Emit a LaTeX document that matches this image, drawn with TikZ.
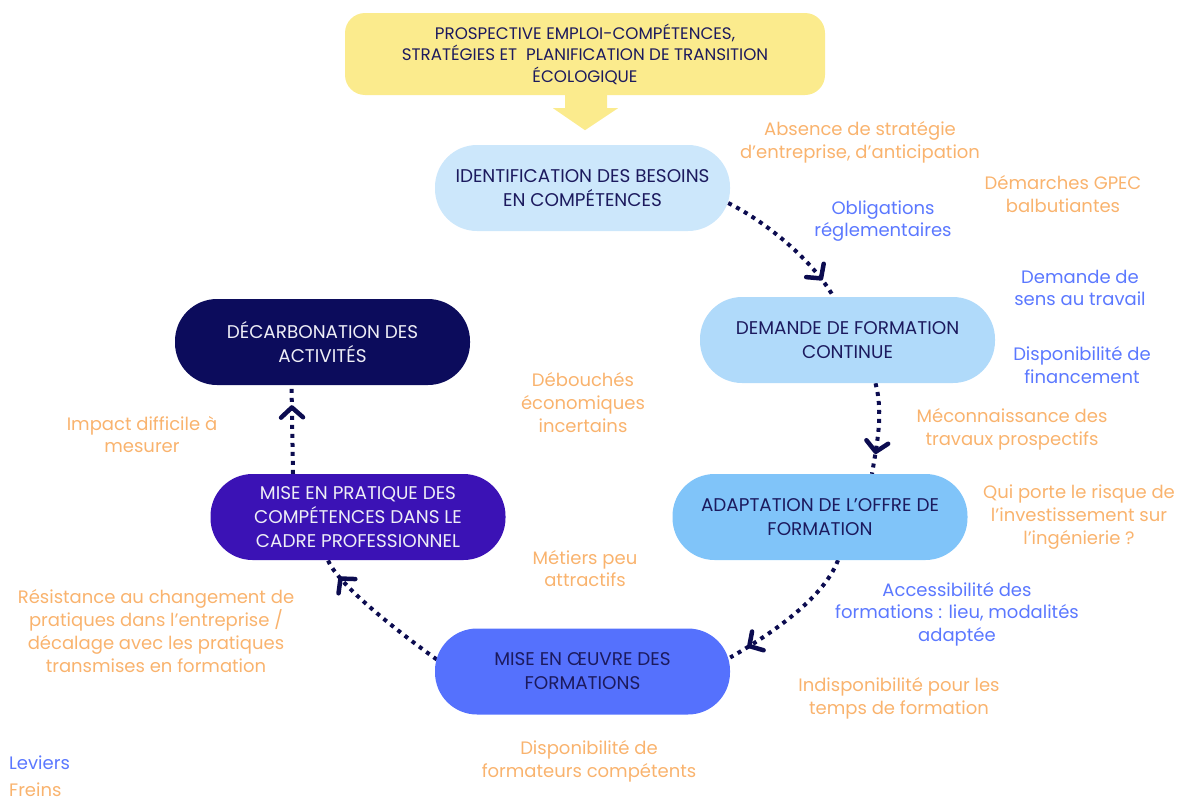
\documentclass[tikz,border=0pt]{standalone}
\usepackage{fontspec}
\setmainfont{Poppins}
\usetikzlibrary{arrows.meta,decorations.markings,backgrounds,calc}

\definecolor{headyellow}{HTML}{FBEB8D}
\definecolor{stageA}{HTML}{CCE7FB}
\definecolor{stageB}{HTML}{B0DAFA}
\definecolor{stageC}{HTML}{80C4F9}
\definecolor{stageD}{HTML}{5571FD}
\definecolor{stageE}{HTML}{3B12B5}
\definecolor{stageF}{HTML}{0C0C5C}
\definecolor{navytext}{HTML}{1C1A5E}
\definecolor{paletext}{HTML}{EEEEF6}
\definecolor{freincol}{HTML}{F9B36E}
\definecolor{leviercol}{HTML}{5B78FF}
\definecolor{linknavy}{HTML}{0C0C50}

\newcommand\stagefont{\fontsize{18.4}{24}\selectfont}
\newcommand\headfont{\fontsize{16.7}{21.5}\selectfont}
\newcommand\notefont{\fontsize{18}{22.7}\selectfont}

\begin{document}
\begin{tikzpicture}[x=1pt,y=-1pt,
  stage/.style={rounded corners=42pt, minimum width=295pt, minimum height=86pt,
    inner sep=0pt, align=center, font=\stagefont, text=navytext},
  frein/.style={text=freincol, align=center, font=\notefont, inner sep=0pt},
  levier/.style={text=leviercol, align=center, font=\notefont, inner sep=0pt},
  flow/.style={draw=linknavy, line width=4pt, line cap=butt,
    dash pattern=on 4pt off 5pt,
    postaction={decorate},
    decoration={markings, mark=at position -20pt with
      {\arrow{Straight Barb[length=10pt,width=22pt,line width=4.5pt,round]}}}}
]
\useasboundingbox (0,0) rectangle (1178,798);

% header box and its block arrow
\node[fill=headyellow, rounded corners=20pt, minimum width=480pt, minimum height=82pt,
  inner sep=0pt, align=center, font=\headfont, text=navytext] (head) at (585,54)
  {PROSPECTIVE EMPLOI-COMPÉTENCES,\\STRATÉGIES ET~ PLANIFICATION DE TRANSITION\\ÉCOLOGIQUE};
\fill[headyellow] ($(head.south)+(-20,0)$) -- ($(head.south)+(22,0)$)
  -- ($(head.south)+(22,13)$) -- ($(head.south)+(33,13)$)
  -- ($(head.south)+(0,35)$) -- ($(head.south)+(-32,13)$)
  -- ($(head.south)+(-20,13)$) -- cycle;

% cycle stages
\node[stage, fill=stageA] (ident) at (582.5,188) {IDENTIFICATION DES BESOINS\\EN COMPÉTENCES};
\node[stage, fill=stageB] (demande) at (847.5,340) {DEMANDE DE FORMATION\\CONTINUE};
\node[stage, fill=stageC] (adapt) at (820,517) {ADAPTATION DE L’OFFRE DE\\FORMATION};
\node[stage, fill=stageD] (oeuvre) at (582.5,671.5) {MISE EN ŒUVRE DES\\FORMATIONS};
\node[stage, fill=stageE, text=paletext] (pratique) at (358,517)
  {MISE EN PRATIQUE DES\\COMPÉTENCES DANS LE\\CADRE PROFESSIONNEL};
\node[stage, fill=stageF, text=paletext] (decarb) at (322.5,342) {DÉCARBONATION DES\\ACTIVITÉS};

% dotted links between stages
\begin{scope}[on background layer]
\draw[flow] ($(ident.east)+(-2,15)$) .. controls +(40,20) and +(-20,-35) .. ($(demande.north)+(-14,0)$);
\draw[flow] ($(demande.south)+(28,0)$) .. controls +(8,30) and +(5,-30) .. ($(adapt.north)+(52,0)$);
\draw[flow] ($(adapt.south)+(18,0)$) .. controls +(-15,40) and +(35,-20) .. ($(oeuvre.east)+(0,-14)$);
\draw[flow] ($(oeuvre.west)+(2,-12)$) .. controls +(-35,-25) and +(10,25) .. ($(pratique.south)+(-30,0)$);
\draw[flow] ($(pratique.north)+(-65,0)$) -- ($(decarb.south)+(-31,0)$);
\end{scope}

% levers and obstacles
\node[frein] (absence) at (860,142.5) {Absence de stratégie\\d’entreprise, d’anticipation};
\node[frein] (gpec) at (1063,194) {Démarches GPEC\\balbutiantes};
\node[levier] (oblig) at (883,221) {Obligations\\réglementaires};
\node[levier] (sens) at (1080,288) {Demande de\\sens au travail};
\node[levier] (finance) at (1082,365) {Disponibilité de\\financement};
\node[frein] (meconn) at (1012,429.5) {Méconnaissance des\\travaux prospectifs};
\node[frein] (risque) at (1079,517) {Qui porte le risque de\\l’investissement sur\\l’ingénierie ?};
\node[levier] (access) at (957,614) {Accessibilité des\\formations : lieu, modalités\\adaptée};
\node[frein] (indispo) at (899,698.5) {Indisponibilité pour les\\temps de formation};
\node[frein] (formateurs) at (589,761.5) {Disponibilité de\\formateurs compétents};
\node[frein] (resist) at (156,631) {Résistance au changement de\\pratiques dans l’entreprise /\\décalage avec les pratiques\\transmises en formation};
\node[frein] (metiers) at (585,568.5) {Métiers peu\\attractifs};
\node[frein] (debouches) at (583,402.5) {Débouchés\\économiques\\incertains};
\node[frein] (impact) at (142,434.5) {Impact difficile à\\mesurer};

% legend
\node[levier, anchor=west] (legL) at (9,763) {Leviers};
\node[frein, anchor=west] (legF) at (9,790) {Freins};
\end{tikzpicture}
\end{document}
